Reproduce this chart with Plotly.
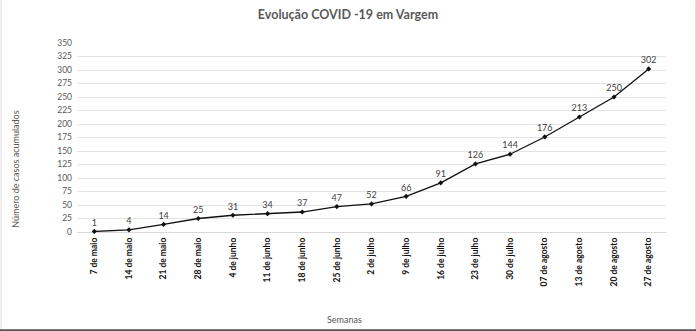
import plotly.graph_objects as go

semanas = ["7 de maio", "14 de maio", "21 de maio", "28 de maio", "4 de junho",
           "11 de junho", "18 de junho", "25 de junho", "2 de julho", "9 de julho",
           "16 de julho", "23 de julho", "30 de julho", "07 de agosto", "13 de agosto",
           "20 de agosto", "27 de agosto"]
casos = [1, 4, 14, 25, 31, 34, 37, 47, 52, 66, 91, 126, 144, 176, 213, 250, 302]
y_ticks = list(range(0, 351, 25))

FONT = "Lato, 'Open Sans', sans-serif"

fig = go.Figure()
fig.add_trace(go.Scatter(
    x=semanas, y=casos, mode="lines+markers+text",
    line=dict(color="#111111", width=1.3),
    marker=dict(symbol="diamond", size=4, color="#111111"),
    text=[str(v) for v in casos], textposition="top center",
    textfont=dict(family=FONT, size=9, color="#404040"),
    cliponaxis=False, showlegend=False,
))

fig.update_layout(
    width=696, height=331,
    margin=dict(l=77, r=30, t=43, b=99, autoexpand=False),
    paper_bgcolor="white", plot_bgcolor="white",
    title=dict(text="<b>Evolução COVID -19 em Vargem</b>", x=0.5, xanchor="center",
               y=0.955, yanchor="middle",
               font=dict(family=FONT, size=12.5, color="#595959")),
    font=dict(family=FONT),
)
fig.update_xaxes(
    type="category", range=[-0.5, len(semanas) - 0.5], automargin=False,
    tickangle=-90, tickfont=dict(family=FONT, size=8.5, color="#111111", weight="bold"),
    showgrid=False, showline=False, ticks="", zeroline=False, ticklabelstandoff=3,
)
fig.update_yaxes(
    range=[0, 350], tickvals=y_ticks, automargin=False,
    tickfont=dict(family=FONT, size=8.5, color="#595959"),
    showgrid=True, gridcolor="#e4e4e4", gridwidth=1,
    zeroline=True, zerolinecolor="#d9d9d9", zerolinewidth=1,
    showline=False, ticks="", ticklabelstandoff=4,
)
# axis titles
fig.add_annotation(text="Semanas", xref="paper", yref="paper", x=0.455, y=-0.465,
                   showarrow=False, xanchor="center", yanchor="middle",
                   font=dict(family=FONT, size=9, color="#595959"))
fig.add_annotation(text="Número de casos acumulados", xref="paper", yref="paper",
                   x=-0.105, y=0.33, textangle=-90, showarrow=False,
                   xanchor="center", yanchor="middle",
                   font=dict(family=FONT, size=9, color="#595959"))
# dark rule along the bottom edge
fig.add_shape(type="line", xref="paper", yref="paper", x0=-0.2, x1=1.1, y0=-0.52, y1=-0.52,
              line=dict(color="#555555", width=2))
fig.add_shape(type="rect", xref="paper", yref="paper", x0=-0.129, x1=1.05, y0=-0.52, y1=1.23,
              line=dict(color="#dddddd", width=1), layer="below")

fig.write_html("out.html")
